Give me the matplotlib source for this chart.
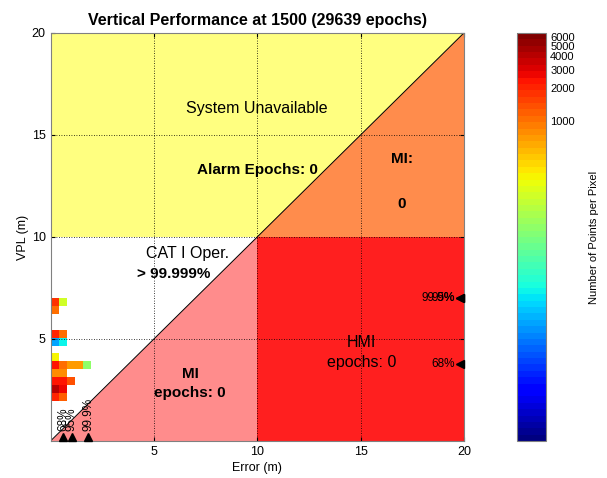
import numpy as np
import matplotlib as mpl
mpl.use('Agg')
import matplotlib.pyplot as plt
from matplotlib.colors import LogNorm

plt.rcParams['font.family'] = ['Liberation Sans', 'DejaVu Sans']

# ---- data ----
alert_limit = 10.0
axis_max = 20.0
bin_size = 0.39
n_epochs = 29639

# 2D histogram: row index (VPL bin) -> counts from error bin 0 upward
hist_rows = [5, 6, 7, 8, 9, 10, 12, 13, 16, 17]
hist_counts = [
    [2100, 1150],
    [4300, 2700],
    [2400, 2400, 1400],
    [800, 800],
    [2200, 1100, 700, 650, 100],
    [300],
    [12, 27],
    [2000, 1000],
    [1000],
    [1900, 200],
]
count_max = 6600

err_pct_labels = ['68%', '95%', '99.9%']
err_pct_values = [0.62, 1.02, 1.82]
vpl_pct_labels = ['68%', '95%', '99.9%']
vpl_pct_values = [3.77, 7.0, 7.0]

cbar_ticks = [1000, 2000, 3000, 4000, 5000, 6000]

# ---- figure ----
fig = plt.figure(figsize=(6.07, 4.78), dpi=100)
ax = fig.add_axes([0.0832, 0.0774, 0.681, 0.8536])
cax = fig.add_axes([0.8517, 0.0774, 0.0478, 0.8536])

al, m = alert_limit, axis_max
ax.fill([0, al, m, 0], [al, al, m, m], color='#ffff80', lw=0, zorder=0)   # system unavailable
ax.fill([al, m, m], [al, al, m], color='#ff8c4c', lw=0, zorder=0)          # MI (unavailable)
ax.fill([0, al, al], [0, 0, al], color='#ff8c8c', lw=0, zorder=0)          # MI
ax.fill([al, m, m, al], [0, 0, al, al], color='#ff1f1f', lw=0, zorder=0)   # HMI
ax.plot([0, m], [0, m], color='black', lw=0.7, zorder=2)

# histogram cells
nb = int(np.ceil(m / bin_size)) + 1
counts = np.zeros((nb, nb))
for r, row in zip(hist_rows, hist_counts):
    counts[r, :len(row)] = row
counts = np.ma.masked_equal(counts, 0)
edges = np.arange(nb + 1) * bin_size
cmap = plt.get_cmap('jet', 64)
norm = LogNorm(vmin=1, vmax=count_max)
mesh = ax.pcolormesh(edges, edges, counts, cmap=cmap, norm=norm, zorder=1)

ax.set_xlim(0, m)
ax.set_ylim(0, m)
ax.set_xticks([5, 10, 15, 20])
ax.set_yticks([5, 10, 15, 20])
ax.grid(True, color='black', linestyle=(0, (1, 2)), lw=0.6, zorder=3)
ax.set_axisbelow(False)
ax.tick_params(direction='in', length=3, labelsize=9, top=True, right=True)
for s in ax.spines.values():
    s.set_color('#808080')
    s.set_zorder(5)
ax.set_xlabel('Error (m)', fontsize=9, labelpad=3)
ax.set_ylabel('VPL (m)', fontsize=9, labelpad=2)
ax.set_title('Vertical Performance at 1500 (%d epochs)' % n_epochs,
             fontsize=11.5, fontweight='bold', pad=6)

# region labels
fs = 11.5
ax.text(10.0, 16.3, 'System Unavailable', ha='center', va='center', fontsize=fs, zorder=6)
ax.text(10.0, 13.3, 'Alarm Epochs: 0', ha='center', va='center', fontsize=fs - 0.5,
        fontweight='bold', zorder=6)
ax.text(17.0, 13.8, 'MI:', ha='center', va='center', fontsize=fs - 0.5, fontweight='bold', zorder=6)
ax.text(17.0, 11.6, '0', ha='center', va='center', fontsize=fs - 0.5, fontweight='bold', zorder=6)
ax.text(6.65, 9.17, 'CAT I Oper.', ha='center', va='center', fontsize=fs, zorder=6)
ax.text(5.95, 8.2, '> 99.999%', ha='center', va='center', fontsize=fs - 0.5,
        fontweight='bold', zorder=6)
ax.text(6.75, 3.3, 'MI', ha='center', va='center', fontsize=fs - 0.5, fontweight='bold', zorder=6)
ax.text(6.75, 2.35, 'epochs: 0', ha='center', va='center', fontsize=fs - 0.5,
        fontweight='bold', zorder=6)
ax.text(15.05, 4.85, 'HMI', ha='center', va='center', fontsize=fs, zorder=6)
ax.text(15.05, 3.87, 'epochs: 0', ha='center', va='center', fontsize=fs, zorder=6)

# percentile markers
for lab, v in zip(err_pct_labels, err_pct_values):
    ax.plot(v, 0.2, marker='^', color='black', ms=6, clip_on=False, zorder=7)
    ax.text(v, 0.5, lab, rotation=90, ha='center', va='bottom', fontsize=8.5, zorder=7)
for lab, v in zip(vpl_pct_labels, vpl_pct_values):
    ax.plot(19.8, v, marker='<', color='black', ms=6, clip_on=False, zorder=7)
    ax.text(19.55, v, lab, ha='right', va='center', fontsize=8.5, zorder=7)

# colorbar
cb = fig.colorbar(mesh, cax=cax)
cb.set_ticks(cbar_ticks)
cb.set_ticklabels([str(t) for t in cbar_ticks])
cb.ax.minorticks_off()
cb.ax.tick_params(labelsize=8, length=0, pad=3)
cb.outline.set_edgecolor('#808080')
cb.set_label('Number of Points per Pixel', fontsize=8, labelpad=10)

fig.savefig('out.png', dpi=100)
